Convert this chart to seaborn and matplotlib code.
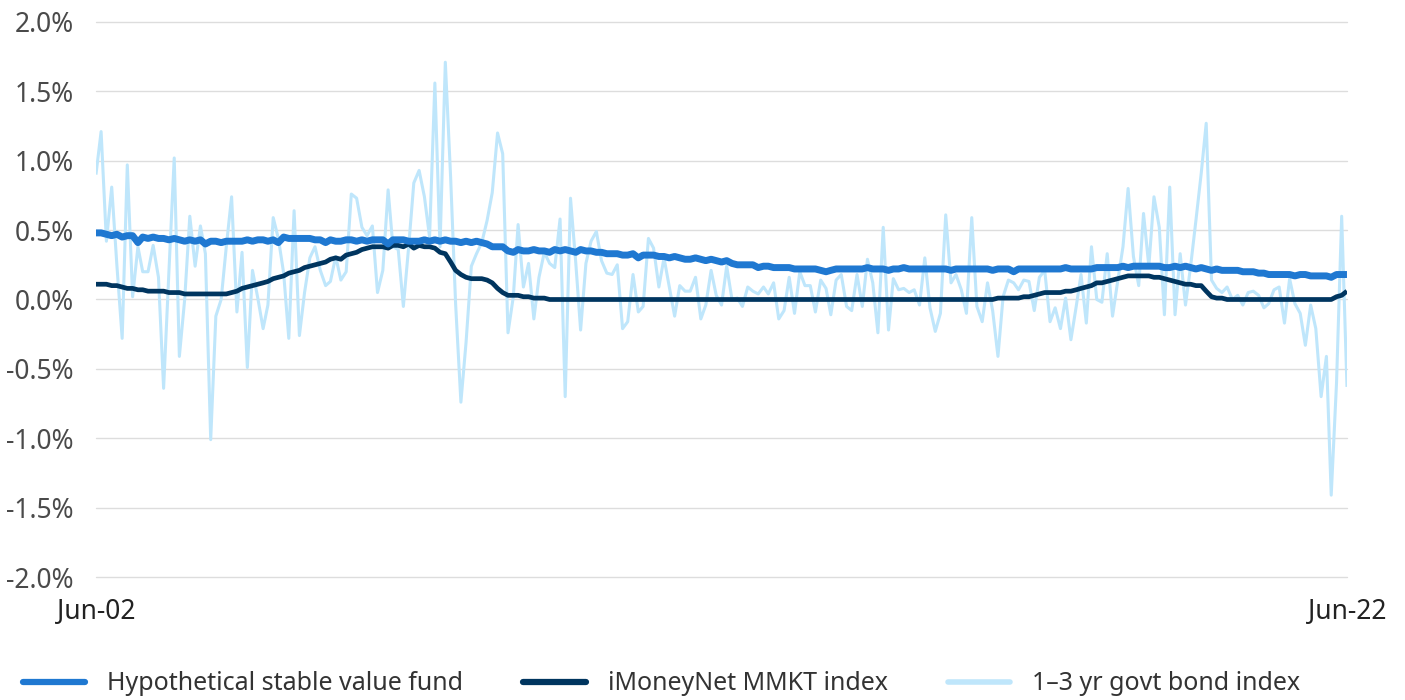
import numpy as np
import pandas as pd
import matplotlib
matplotlib.use("Agg")
import matplotlib.pyplot as plt
from matplotlib.lines import Line2D
from matplotlib.ticker import FuncFormatter
import seaborn as sns

# ---------------- data (monthly, Jun-2002 .. Jun-2022) ----------------
stable_value = [
    0.48,0.48,0.47,0.46,0.47,0.45,0.46,0.46,0.41,0.45,
    0.44,0.45,0.44,0.44,0.43,0.44,0.43,0.42,0.43,0.42,
    0.43,0.40,0.42,0.42,0.41,0.42,0.42,0.42,0.42,0.43,
    0.42,0.43,0.43,0.42,0.43,0.41,0.45,0.44,0.44,0.44,
    0.44,0.44,0.43,0.43,0.41,0.43,0.42,0.42,0.43,0.43,
    0.42,0.43,0.42,0.43,0.43,0.43,0.40,0.43,0.43,0.43,
    0.42,0.42,0.42,0.43,0.42,0.43,0.42,0.43,0.42,0.42,
    0.41,0.42,0.41,0.42,0.41,0.40,0.38,0.38,0.38,0.35,
    0.34,0.36,0.35,0.35,0.36,0.35,0.35,0.34,0.36,0.35,
    0.36,0.35,0.34,0.36,0.35,0.35,0.34,0.34,0.33,0.33,
    0.33,0.32,0.32,0.33,0.30,0.32,0.32,0.32,0.31,0.31,
    0.30,0.31,0.30,0.29,0.29,0.30,0.29,0.28,0.29,0.28,
    0.27,0.28,0.26,0.25,0.25,0.25,0.25,0.23,0.24,0.24,
    0.23,0.23,0.23,0.23,0.22,0.22,0.22,0.22,0.22,0.21,
    0.20,0.21,0.22,0.22,0.22,0.22,0.22,0.22,0.23,0.22,
    0.22,0.22,0.21,0.22,0.22,0.23,0.22,0.22,0.22,0.22,
    0.22,0.22,0.22,0.22,0.21,0.22,0.22,0.22,0.22,0.22,
    0.22,0.22,0.21,0.22,0.22,0.22,0.20,0.22,0.22,0.22,
    0.22,0.22,0.22,0.22,0.22,0.22,0.23,0.22,0.22,0.22,
    0.22,0.22,0.23,0.23,0.23,0.23,0.23,0.24,0.23,0.24,
    0.24,0.24,0.24,0.24,0.24,0.23,0.23,0.24,0.23,0.24,
    0.23,0.22,0.23,0.22,0.21,0.22,0.21,0.21,0.21,0.21,
    0.20,0.20,0.20,0.19,0.19,0.18,0.18,0.18,0.18,0.18,
    0.17,0.18,0.18,0.17,0.17,0.17,0.17,0.16,0.18,0.18,
    0.18,
]

mmkt_index = [
    0.11,0.11,0.11,0.10,0.10,0.09,0.08,0.08,0.07,0.07,
    0.06,0.06,0.06,0.06,0.05,0.05,0.05,0.04,0.04,0.04,
    0.04,0.04,0.04,0.04,0.04,0.04,0.05,0.06,0.08,0.09,
    0.10,0.11,0.12,0.13,0.15,0.16,0.17,0.19,0.20,0.21,
    0.23,0.24,0.25,0.26,0.27,0.29,0.30,0.29,0.32,0.33,
    0.34,0.36,0.37,0.38,0.38,0.38,0.37,0.39,0.39,0.38,
    0.40,0.37,0.39,0.38,0.38,0.37,0.34,0.33,0.27,0.21,
    0.18,0.16,0.15,0.15,0.15,0.14,0.12,0.08,0.05,0.03,
    0.03,0.03,0.02,0.02,0.01,0.01,0.01,0.00,0.00,0.00,
    0.00,0.00,0.00,0.00,0.00,0.00,0.00,0.00,0.00,0.00,
    0.00,0.00,0.00,0.00,0.00,0.00,0.00,0.00,0.00,0.00,
    0.00,0.00,0.00,0.00,0.00,0.00,0.00,0.00,0.00,0.00,
    0.00,0.00,0.00,0.00,0.00,0.00,0.00,0.00,0.00,0.00,
    0.00,0.00,0.00,0.00,0.00,0.00,0.00,0.00,0.00,0.00,
    0.00,0.00,0.00,0.00,0.00,0.00,0.00,0.00,0.00,0.00,
    0.00,0.00,0.00,0.00,0.00,0.00,0.00,0.00,0.00,0.00,
    0.00,0.00,0.00,0.00,0.00,0.00,0.00,0.00,0.00,0.00,
    0.00,0.00,0.00,0.01,0.01,0.01,0.01,0.01,0.02,0.02,
    0.03,0.04,0.05,0.05,0.05,0.05,0.06,0.06,0.07,0.08,
    0.09,0.10,0.12,0.12,0.13,0.14,0.15,0.16,0.17,0.17,
    0.17,0.17,0.17,0.16,0.16,0.15,0.14,0.13,0.12,0.11,
    0.11,0.10,0.10,0.06,0.02,0.01,0.01,0.00,0.00,0.00,
    0.00,0.00,0.00,0.00,0.00,0.00,0.00,0.00,0.00,0.00,
    0.00,0.00,0.00,0.00,0.00,0.00,0.00,0.00,0.02,0.03,
    0.06,
]

govt_bond = [
    0.90,1.21,0.42,0.81,0.25,-0.28,0.97,0.02,0.38,0.20,
    0.20,0.39,0.16,-0.64,0.20,1.02,-0.41,0.00,0.60,0.24,
    0.53,0.33,-1.01,-0.12,0.00,0.38,0.74,-0.09,0.34,-0.49,
    0.21,0.01,-0.21,-0.04,0.59,0.44,0.19,-0.28,0.64,-0.26,
    0.05,0.30,0.38,0.21,0.10,0.13,0.31,0.14,0.20,0.76,
    0.73,0.52,0.46,0.53,0.05,0.21,0.79,0.38,0.36,-0.05,
    0.38,0.84,0.93,0.74,0.45,1.56,0.38,1.71,0.88,-0.03,
    -0.74,-0.31,0.24,0.33,0.41,0.57,0.77,1.20,1.05,-0.24,
    0.02,0.54,0.09,0.26,-0.14,0.16,0.34,0.26,0.23,0.58,
    -0.70,0.73,0.26,-0.22,0.26,0.42,0.49,0.28,0.19,0.18,
    0.25,-0.21,-0.16,0.18,-0.09,-0.05,0.44,0.37,0.09,0.30,
    0.09,-0.12,0.10,0.06,0.06,0.16,-0.14,-0.04,0.21,0.03,
    -0.04,0.24,0.00,0.01,-0.05,0.09,0.06,0.04,0.09,0.04,
    0.12,-0.14,-0.08,0.16,-0.10,0.20,0.10,0.10,-0.09,0.14,
    0.08,-0.11,0.14,0.18,-0.05,-0.08,0.18,-0.05,0.29,0.12,
    -0.24,0.52,-0.22,0.15,0.07,0.08,0.05,0.07,-0.04,0.30,
    -0.06,-0.23,-0.10,0.61,0.12,0.18,0.07,-0.10,0.59,-0.05,
    -0.16,0.12,-0.08,-0.41,0.02,0.14,0.12,0.07,0.14,0.13,
    -0.08,0.16,0.21,-0.16,-0.06,-0.21,0.01,-0.29,-0.05,0.18,
    -0.17,0.38,0.00,-0.02,0.33,-0.12,0.13,0.38,0.80,0.31,
    0.10,0.62,0.24,0.74,0.52,-0.11,0.81,-0.11,0.33,-0.04,
    0.24,0.57,0.91,1.27,0.14,0.08,0.05,0.09,0.00,0.03,
    -0.04,0.05,0.06,0.03,-0.06,-0.03,0.07,0.09,-0.17,0.15,
    -0.03,-0.10,-0.33,-0.04,-0.21,-0.70,-0.41,-1.41,-0.60,0.60,
    -0.63,
]

series_names = ["Hypothetical stable value fund", "iMoneyNet MMKT index", "1\u20133 yr govt bond index"]
series_colors = ["#1f78d1", "#00355f", "#bfe6fb"]
y_ticks = [-2.0, -1.5, -1.0, -0.5, 0.0, 0.5, 1.0, 1.5, 2.0]
x_tick_labels = ["Jun-02", "Jun-22"]

dates = pd.date_range("2002-06-01", periods=len(govt_bond), freq="MS")
df = pd.DataFrame({
    "date": np.tile(dates, 3),
    "value": stable_value + mmkt_index + govt_bond,
    "series": np.repeat(series_names, len(dates)),
})

# ---------------- plot ----------------
sns.set_theme(style="white")
plt.rcParams["font.family"] = ["Noto Sans", "DejaVu Sans"]
plt.rcParams["font.weight"] = "light"

fig = plt.figure(figsize=(14.05, 7.0), dpi=100)
ax = fig.add_axes([0.0683, 0.1757, 0.8904, 0.7929])

widths = {series_names[0]: 5.0, series_names[1]: 3.4, series_names[2]: 2.2}
for name in [series_names[2], series_names[1], series_names[0]]:
    sub = df[df["series"] == name]
    sns.lineplot(data=sub, x="date", y="value", ax=ax,
                 color=series_colors[series_names.index(name)],
                 linewidth=widths[name], legend=False, zorder=3,
                 solid_joinstyle="round", solid_capstyle="butt")

ax.set_ylim(-2.0, 2.0)
ax.set_yticks(y_ticks)
ax.yaxis.set_major_formatter(FuncFormatter(lambda v, p: f"{v:.1f}%"))
ax.set_xlim(dates[0], dates[-1])
ax.set_xticks([dates[0], dates[-1]])
ax.set_xticklabels(x_tick_labels)
ax.set_xlabel("")
ax.set_ylabel("")
ax.grid(axis="y", color="#dddddd", linewidth=1.0, zorder=0)
ax.grid(axis="x", visible=False)
for gl in ax.get_ygridlines():
    gl.set_clip_on(False)
for s in ax.spines.values():
    s.set_visible(False)
ax.tick_params(axis="y", length=0, pad=16, labelsize=19, labelcolor="#4a4a4a")
ax.tick_params(axis="x", length=0, pad=15, labelsize=19, labelcolor="#222222")

handles = [Line2D([0], [0], color=series_colors[0], linewidth=4.5),
           Line2D([0], [0], color=series_colors[1], linewidth=4.5),
           Line2D([0], [0], color=series_colors[2], linewidth=4.0)]
fig.legend(handles, series_names, loc="center", ncol=3, frameon=False,
           bbox_to_anchor=(0.471, 0.023), fontsize=18, handlelength=2.5,
           handletextpad=0.88, columnspacing=2.4, labelcolor="#333333")

fig.savefig("out.png", dpi=100)
